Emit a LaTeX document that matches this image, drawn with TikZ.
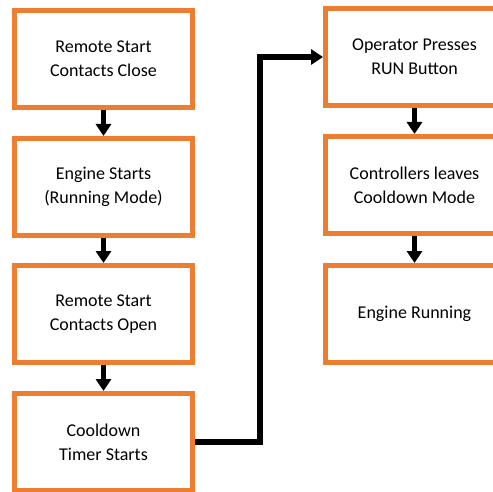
\documentclass[tikz,border=0pt]{standalone}
\usepackage{fontspec}
\setmainfont{Carlito}
\usetikzlibrary{arrows.meta}
\definecolor{boxorange}{HTML}{ED7D31}
\tikzset{
  stepbox/.style={draw=boxorange, line width=5pt, fill=white, minimum width=178pt, minimum height=97pt,
    align=center, inner sep=0pt, font=\fontsize{18}{24}\selectfont, text=black},
  flowarrow/.style={line width=5.5pt, -{Triangle[width=15pt,length=12pt]}},
  elbowline/.style={line width=5.5pt, -{Triangle[width=15pt,length=12pt]}}
}
\begin{document}
\begin{tikzpicture}[x=1pt,y=-1pt]
\useasboundingbox (0,0) rectangle (493,492);
\node[stepbox] (l1) at (103.5,59) {Remote Start\\Contacts Close};
\node[stepbox] (l2) at (103.5,187) {Engine Starts\\(Running Mode)};
\node[stepbox] (l3) at (103.5,314) {Remote Start\\Contacts Open};
\node[stepbox] (l4) at (103.5,442) {Cooldown\\Timer Starts};
\node[stepbox] (r1) at (414.5,57) {Operator Presses\\RUN Button};
\node[stepbox] (r2) at (414.5,185) {Controllers leaves\\Cooldown Mode};
\node[stepbox] (r3) at (414.5,314) {Engine Running};
\draw[flowarrow] (l1) -- (l2);
\draw[flowarrow] (l2) -- (l3);
\draw[flowarrow] (l3) -- (l4);
\draw[flowarrow] (r1) -- (r2);
\draw[flowarrow] (r2) -- (r3);
\coordinate (elbow) at (260,442);
\draw[elbowline] (l4.east) -- (elbow) |- (r1.west);
\end{tikzpicture}
\end{document}
